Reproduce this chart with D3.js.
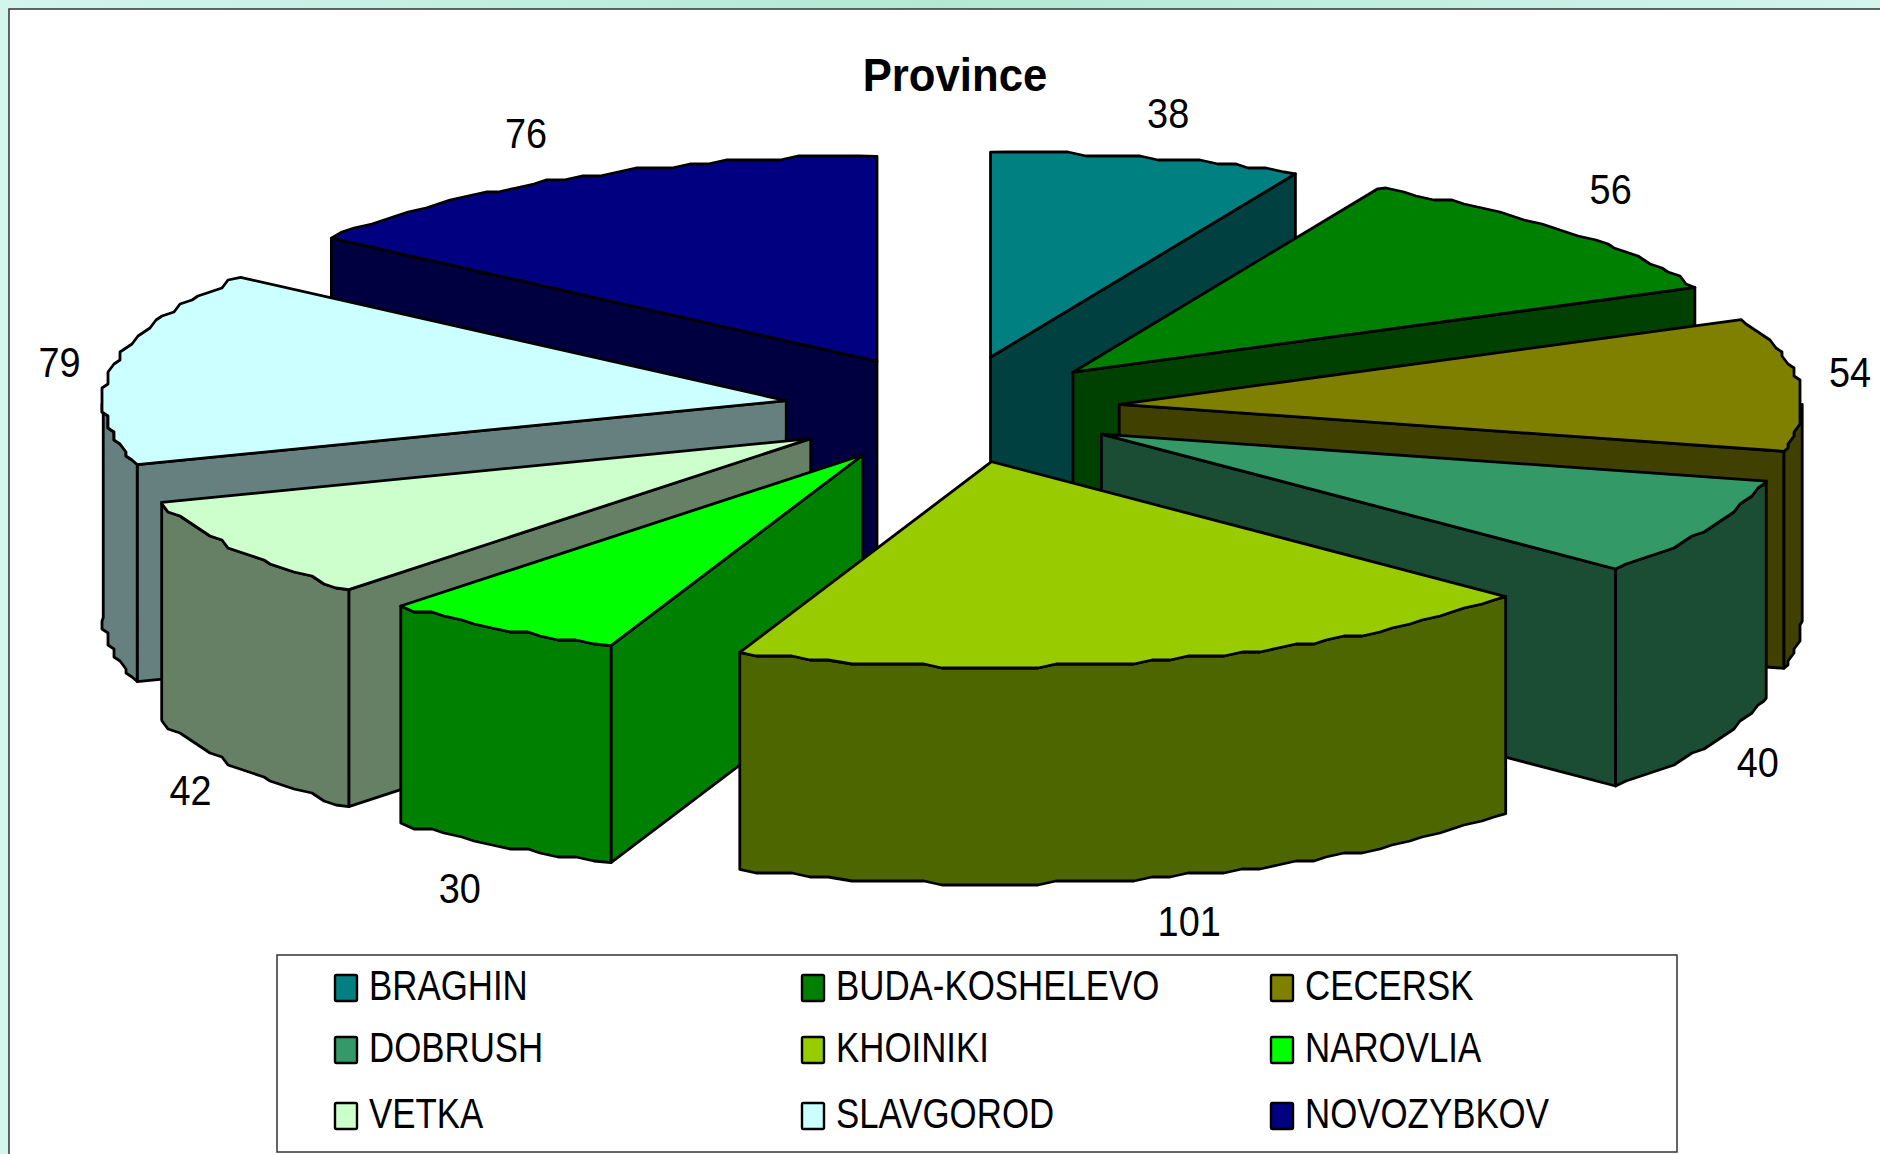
<!DOCTYPE html>
<html lang="en">
<head>
<meta charset="utf-8">
<title>Province</title>
<script src="https://d3js.org/d3.v7.min.js"></script>
<style>
  html, body { margin: 0; padding: 0; background: #fff; overflow: hidden; }
  svg { display: block; }
  text { font-family: "Liberation Sans", Arial, sans-serif; fill: #000; }
</style>
</head>
<body>
<script>
// data
var provinces = ["BRAGHIN", "BUDA-KOSHELEVO", "CECERSK", "DOBRUSH", "KHOINIKI", "NAROVLIA", "VETKA", "SLAVGOROD", "NOVOZYBKOV"];
var counts = [38, 56, 54, 40, 101, 30, 42, 79, 76];
var topColors = ["#008080", "#008000", "#808000", "#339966", "#99CC00", "#00FF00", "#CCFFCC", "#CCFFFF", "#000080"];

var width = 1880, height = 1154;

// pie geometry, in pixels
var cx = 952, cy = 409.5, rx = 683, ry = 205, depth = 217;
var explodeX = 0.246, explodeY = 0.262;

var xPos = d3.scaleLinear().domain([-1, 1]).range([cx - rx, cx + rx]);
var yPos = d3.scaleLinear().domain([-1, 1]).range([cy + ry, cy - ry]);

var svg = d3.select("body").append("svg").attr("width", width).attr("height", height);

var grad = svg.append("defs").append("linearGradient").attr("id", "page");
grad.append("stop").attr("offset", "0%").attr("stop-color", "#D3F5EC");
grad.append("stop").attr("offset", "50%").attr("stop-color", "#B2E9D5");
grad.append("stop").attr("offset", "100%").attr("stop-color", "#D3F5EC");

svg.append("rect").attr("width", width).attr("height", height).attr("fill", "url(#page)");
svg.append("rect").attr("x", 9).attr("y", 9).attr("width", width).attr("height", height)
  .attr("fill", "#fff").attr("stroke", "#333").attr("stroke-width", 1.5);

// squeezed text, the picture is stretched a little in height
function squeezed(parent, x, y, size, str, anchor, squash) {
  return parent.append("text")
    .attr("transform", "translate(" + x + "," + y + ") scale(" + squash + ",1)")
    .attr("font-size", size)
    .attr("text-anchor", anchor)
    .text(str);
}

var pie = d3.pie().sort(null).value(function(d) { return d; });
var arcs = pie(counts).map(function(a, i) {
  a.mid = (a.startAngle + a.endAngle) / 2;
  a.dx = Math.sin(a.mid) * explodeX;
  a.dy = Math.cos(a.mid) * explodeY;
  a.color = topColors[i];
  a.side = d3.interpolateRgb(topColors[i], "#000")(0.5);
  return a;
});

// the rim of the original is a rough polyline: a fixed set of angles, snapped
// to a coarse grid, so the top face and the wall under it share their corners
var rimStep = 1.6 * Math.PI / 180;
function rimPoint(a, t, snap) {
  var x = xPos(a.dx + Math.sin(t)), y = yPos(a.dy + Math.cos(t));
  if (snap) {
    x = Math.round(x / 6) * 6;
    y = Math.round(y / 4) * 4;
  }
  return [x, y];
}
function rim(a, from, to) {
  var pts = [rimPoint(a, from, false)];
  for (var k = Math.floor(from / rimStep) + 1; k * rimStep < to - 0.01; k++) {
    if (k * rimStep > from + 0.01) pts.push(rimPoint(a, k * rimStep, true));
  }
  pts.push(rimPoint(a, to, false));
  return pts;
}

var line = d3.line();
function closed(pts) { return line(pts) + "Z"; }
function down(pts) { return pts.map(function(p) { return [p[0], p[1] + depth]; }); }

// back slices first
var pieG = svg.append("g").attr("stroke", "#000").attr("stroke-width", 2.8).attr("stroke-linejoin", "round");
arcs.slice().sort(function(a, b) { return Math.cos(b.mid) - Math.cos(a.mid); }).forEach(function(a) {
  var apex = [xPos(a.dx), yPos(a.dy)];
  var g = pieG.append("g");
  var outer = rim(a, a.startAngle, a.endAngle);

  // radial walls that face the viewer
  if (Math.sin(a.startAngle) < -0.001) {
    var s = [apex, outer[0]];
    g.append("path").attr("d", closed(s.concat(down(s).reverse()))).attr("fill", a.side);
  }
  if (a.endAngle < Math.PI) {
    var e = [apex, outer[outer.length - 1]];
    g.append("path").attr("d", closed(e.concat(down(e).reverse()))).attr("fill", a.side);
  }
  // outer wall, only the front half of the pie shows it
  var from = Math.max(a.startAngle, Math.PI / 2), to = Math.min(a.endAngle, Math.PI * 1.5);
  if (to > from) {
    var w = rim(a, from, to);
    g.append("path").attr("d", closed(w.concat(down(w).reverse()))).attr("fill", a.side);
  }
  g.append("path").attr("d", closed([apex].concat(outer))).attr("fill", a.color);
});

// value labels sit just outside the rim
var labelNudge = [[-19, 0], [6, -9], [11, -8], [9, -4], [-3, -2], [0, 3], [-6, -2], [-13, 2], [-6, -4]];
arcs.forEach(function(a, i) {
  var sx = Math.sin(a.mid), cs = Math.cos(a.mid);
  var x = xPos(a.dx + sx) + (sx > 0 ? 40 : -40) + labelNudge[i][0];
  var y = yPos(a.dy + cs) - cs * 46 + labelNudge[i][1];
  if (cs < 0) y += depth;
  squeezed(svg, x, y + 15, 43, counts[i], "middle", 0.88);
});

squeezed(svg, 955, 91, 47, "Province", "middle", 0.93).attr("font-weight", "bold");

// legend
var legendX = 277, legendY = 955, legendW = 1400, legendH = 197;
var swatchCols = [335, 802, 1271], rowBase = [1000, 1062, 1128];
svg.append("rect").attr("x", legendX).attr("y", legendY).attr("width", legendW).attr("height", legendH)
  .attr("fill", "#fff").attr("stroke", "#333").attr("stroke-width", 1.5);

provinces.forEach(function(name, i) {
  var col = i % 3, row = Math.floor(i / 3);
  svg.append("rect")
    .attr("x", swatchCols[col]).attr("y", rowBase[row] - 25)
    .attr("width", 22).attr("height", 26).attr("rx", 1.5)
    .attr("fill", topColors[i]).attr("stroke", "#000").attr("stroke-width", 2.4);
  squeezed(svg, swatchCols[col] + 34, rowBase[row], 42, name, "start", 0.83);
});
</script>
</body>
</html>
